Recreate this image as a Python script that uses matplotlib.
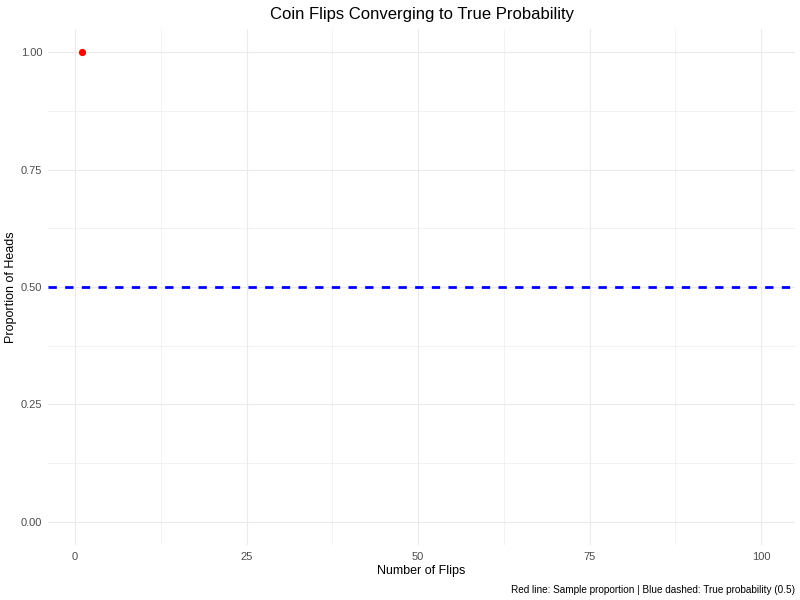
import matplotlib.pyplot as plt
import numpy as np

flips = [1]
proportion = [1.0]
true_p = 0.5
x_ticks = [0, 25, 50, 75, 100]
y_ticks = [0.0, 0.25, 0.5, 0.75, 1.0]
y_labels = ["0.00", "0.25", "0.50", "0.75", "1.00"]

plt.rcParams["font.family"] = ["Liberation Sans", "DejaVu Sans"]

fig = plt.figure(figsize=(8, 6), dpi=100)
ax = fig.add_axes([0.06, 0.0917, 0.9338, 0.86])

grid = "#EBEBEB"
x_lo, x_hi = 1, 100
pad = (x_hi - x_lo) * 0.05
ax.set_xlim(x_lo - pad, x_hi + pad)
ax.set_ylim(-0.05, 1.05)

ax.set_xticks(x_ticks)
ax.set_xticks([12.5, 37.5, 62.5, 87.5], minor=True)
ax.set_yticks(y_ticks)
ax.set_yticklabels(y_labels)
ax.set_yticks([0.125, 0.375, 0.625, 0.875], minor=True)
ax.grid(which="major", color=grid, linewidth=0.8)
ax.grid(which="minor", color=grid, linewidth=0.45)
ax.set_axisbelow(True)
for s in ax.spines.values():
    s.set_visible(False)
ax.tick_params(which="both", length=0, labelsize=8, labelcolor="#4D4D4D")
ax.tick_params(axis="x", pad=5)
ax.tick_params(axis="y", pad=4)

ax.plot(flips, proportion, color="red", linewidth=1.2)
ax.plot(flips, proportion, "o", color="red", markersize=4.2)
ax.axhline(true_p, color="blue", linewidth=2.0, linestyle=(0, (3, 3)))

ax.set_title("Coin Flips Converging to True Probability", fontsize=12, pad=7)
ax.set_xlabel("Number of Flips", fontsize=9, labelpad=2)
ax.set_ylabel("Proportion of Heads", fontsize=9, labelpad=3)
fig.text(0.99375, 0.008, "Red line: Sample proportion | Blue dashed: True probability (0.5)",
         ha="right", va="bottom", fontsize=7.2)

fig.savefig("out.png", dpi=100)
